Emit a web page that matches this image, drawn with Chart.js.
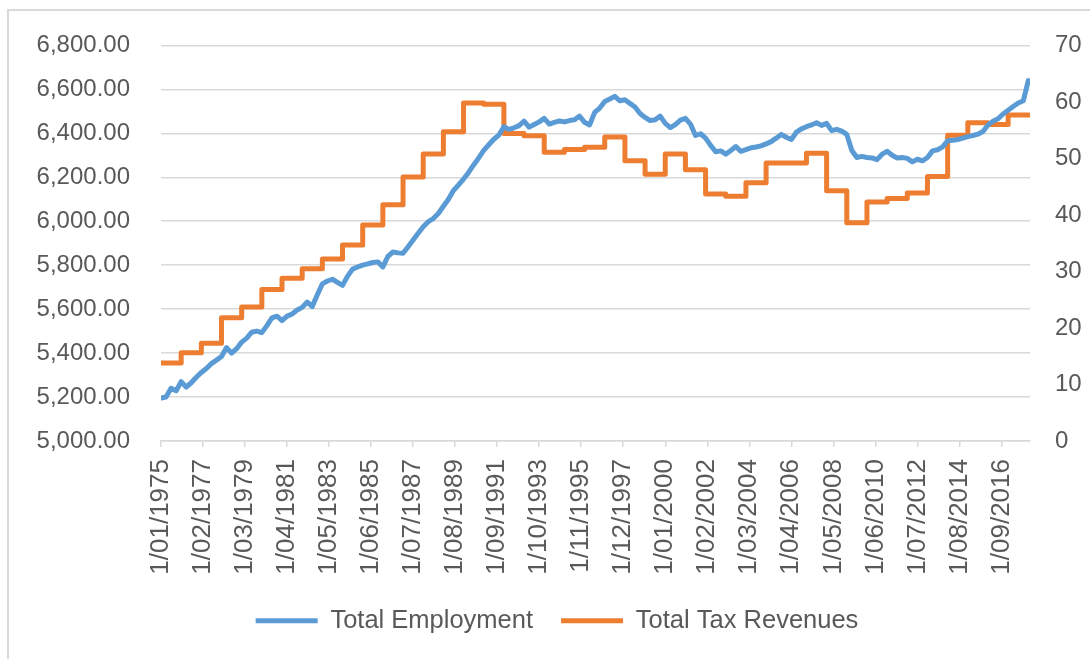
<!DOCTYPE html>
<html>
<head>
<meta charset="utf-8">
<script src="https://cdn.jsdelivr.net/npm/chart.js@4.4.1/dist/chart.umd.min.js"></script>
<style>
  html, body { margin: 0; padding: 0; background: #fff; overflow: hidden; }
  body { width: 1090px; height: 659px; position: relative; }
  #frame { position: absolute; left: 7px; top: 9px; width: 1200px; height: 800px;
           border: 2px solid #D9D9D9; box-sizing: border-box; }
  #wrap { position: absolute; left: 0; top: 0; width: 1114px; height: 659px; }
</style>
</head>
<body>
<div id="frame"></div>
<div id="wrap"><canvas id="chart" width="1114" height="659"></canvas></div>
<script>
// x tick labels, one every 25 months starting Jan 1975
const xTickLabels = ['1/01/1975', '1/02/1977', '1/03/1979', '1/04/1981', '1/05/1983', '1/06/1985',
  '1/07/1987', '1/08/1989', '1/09/1991', '1/10/1993', '1/11/1995', '1/12/1997', '1/01/2000',
  '1/02/2002', '1/03/2004', '1/04/2006', '1/05/2008', '1/06/2010', '1/07/2012', '1/08/2014',
  '1/09/2016'];
const lastMonth = 517; // months after Jan 1975 where the data stops

// Total Employment, quarterly readings (Jan, Apr, Jul, Oct) from 1975
const employment = [
  5195, 5200, 5240, 5228,  5270, 5245, 5265, 5290,  5312, 5330, 5352, 5368,  // 75-77
  5385, 5425, 5400, 5420,  5450, 5468, 5495, 5500,  5493, 5525, 5560, 5568,  // 78-80
  5548, 5568, 5578, 5596,  5608, 5632, 5612, 5665,  5715, 5728, 5736, 5722,  // 81-83
  5708, 5750, 5782, 5792,  5800, 5806, 5812, 5815,  5792, 5840, 5860, 5856,  // 84-86
  5854, 5884, 5915, 5945,  5975, 5998, 6012, 6035,  6068, 6100, 6140, 6165,  // 87-89
  6192, 6222, 6256, 6288,  6322, 6348, 6373, 6392,  6430, 6418, 6425, 6435,  // 90-92
  6455, 6428, 6440, 6452,  6468, 6442, 6450, 6456,  6452, 6458, 6462, 6478,  // 93-95
  6450, 6438, 6495, 6515,  6545, 6556, 6568, 6548,  6553, 6536, 6520, 6490,  // 96-98
  6472, 6458, 6462, 6478,  6445, 6426, 6440, 6460,  6468, 6442, 6390, 6398,  // 99-01
  6378, 6345, 6316, 6320,  6305, 6322, 6340, 6318,  6326, 6334, 6338, 6343,  // 02-04
  6352, 6362, 6378, 6395,  6382, 6372, 6405, 6420,  6430, 6438, 6448, 6436,  // 05-07
  6445, 6412, 6418, 6410,  6395, 6322, 6290, 6295,  6290, 6288, 6280, 6305,  // 08-10
  6318, 6300, 6288, 6290,  6286, 6270, 6282, 6275,  6290, 6320, 6325, 6338,  // 11-13
  6366, 6368, 6372, 6378,  6385, 6390, 6396, 6408,  6438, 6455, 6466, 6488,  // 14-16
  6505, 6522, 6538, 6548,  6640                                              // 17-18
];

// Total Tax Revenues, one value per calendar year 1975..2017
const taxRevenues = [
  13.8, 15.6, 17.3, 21.8, 23.7, 26.8, 28.8, 30.5, 32.2, 34.7,
  38.2, 41.8, 46.7, 50.8, 54.7, 59.8, 59.6, 54.4, 54.0, 51.1,
  51.6, 52.0, 53.8, 49.6, 47.2, 50.8, 48.0, 43.7, 43.3, 45.7,
  49.2, 49.2, 50.9, 44.3, 38.6, 42.3, 42.9, 43.9, 46.8, 54.1,
  56.3, 56.0, 57.7
];

const empPoints = employment.map((v, i) => ({ x: i * 3, y: v }));
const taxPoints = taxRevenues.map((v, i) => ({ x: i * 12, y: v }));
taxPoints.push({ x: lastMonth, y: taxRevenues[taxRevenues.length - 1] });

const grey = '#595959';
const gridGrey = '#D9D9D9';
Chart.defaults.font.family = "'Liberation Sans', Arial, sans-serif";
Chart.defaults.font.size = 24;
Chart.defaults.color = grey;

new Chart(document.getElementById('chart'), {
  type: 'line',
  data: {
    datasets: [
      {
        label: 'Total Employment',
        data: empPoints,
        yAxisID: 'y',
        borderColor: '#5B9BD5',
        backgroundColor: '#5B9BD5',
        borderWidth: 5,
        borderCapStyle: 'round',
        borderJoinStyle: 'round',
        pointRadius: 0,
        tension: 0
      },
      {
        label: 'Total Tax Revenues',
        data: taxPoints,
        yAxisID: 'y1',
        stepped: true,
        borderColor: '#ED7D31',
        backgroundColor: '#ED7D31',
        borderWidth: 5,
        borderCapStyle: 'round',
        borderJoinStyle: 'round',
        pointRadius: 0
      }
    ]
  },
  options: {
    responsive: false,
    animation: false,
    layout: { padding: { top: 42, bottom: 15.5, left: 0, right: 0 } },
    plugins: {
      tooltip: { enabled: false },
      legend: {
        position: 'bottom',
        labels: {
          usePointStyle: true,
          pointStyle: 'line',
          pointStyleWidth: 62,
          padding: 28,
          font: { size: 25.5 },
          color: grey
        }
      }
    },
    scales: {
      x: {
        type: 'linear',
        min: 0,
        max: lastMonth,
        afterFit: (s) => { s.height = 139; },
        border: { display: true, color: gridGrey, width: 1.5 },
        grid: { drawOnChartArea: false, drawTicks: true, tickLength: 6, color: gridGrey, lineWidth: 1.5 },
        ticks: {
          stepSize: 25,
          includeBounds: false,
          autoSkip: false,
          minRotation: 90,
          maxRotation: 90,
          padding: 12,
          font: { size: 26 },
          callback: (v) => xTickLabels[v / 25]
        }
      },
      y: {
        position: 'left',
        min: 5000,
        max: 6800,
        afterFit: (s) => { s.width = 161; },
        border: { display: false },
        grid: { color: gridGrey, lineWidth: 1.5, drawTicks: false },
        ticks: {
          stepSize: 200,
          padding: 31,
          callback: (v) => v.toLocaleString('en-US', { minimumFractionDigits: 2, maximumFractionDigits: 2 })
        }
      },
      y1: {
        position: 'right',
        min: 0,
        max: 70,
        afterFit: (s) => { s.width = 84; },
        border: { display: false },
        grid: { drawOnChartArea: false, drawTicks: false },
        ticks: { stepSize: 10, padding: 25 }
      }
    }
  }
});
</script>
</body>
</html>
